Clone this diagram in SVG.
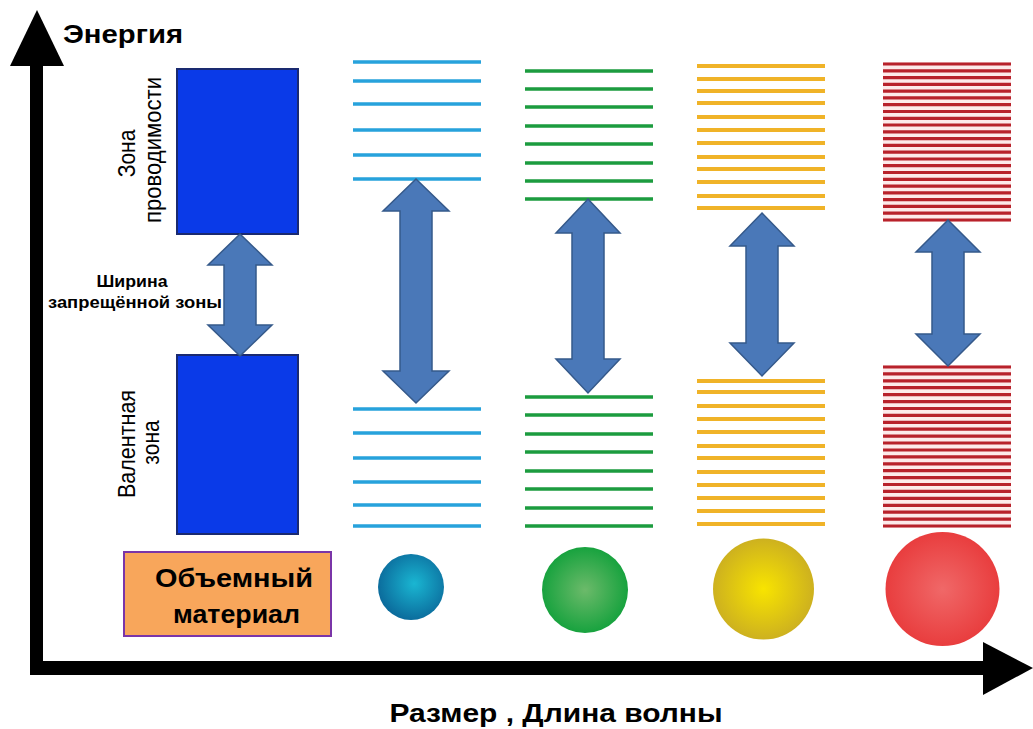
<svg xmlns="http://www.w3.org/2000/svg" width="1033" height="729" viewBox="0 0 1033 729">
<defs>
<style>
.lbl{font-family:"Liberation Sans",Arial,sans-serif;fill:#000}
.b{font-weight:bold}
.band{fill:#0a3ae8;stroke:#1a2a70;stroke-width:2}
.arr{fill:#4a78b8;stroke:#35598a;stroke-width:1.5;stroke-linejoin:miter}
.cy{stroke:#27a2dc;stroke-width:3.5;fill:none}
.gr{stroke:#1c9c3f;stroke-width:3.5;fill:none}
.ye{stroke:#f0b328;stroke-width:4;fill:none}
.rd{stroke:#b8222b;stroke-width:3.2;fill:none}
</style>
<radialGradient id="gTeal" cx="0.55" cy="0.45" r="0.6">
<stop offset="0" stop-color="#1ab6d2"/><stop offset="1" stop-color="#0a6698"/>
</radialGradient>
<radialGradient id="gGreen" cx="0.5" cy="0.5" r="0.55">
<stop offset="0" stop-color="#6cba6a"/><stop offset="1" stop-color="#0fa03a"/>
</radialGradient>
<radialGradient id="gYellow" cx="0.5" cy="0.5" r="0.55">
<stop offset="0" stop-color="#f8e400"/><stop offset="1" stop-color="#c9ac22"/>
</radialGradient>
<radialGradient id="gRed" cx="0.5" cy="0.5" r="0.55">
<stop offset="0" stop-color="#f06868"/><stop offset="1" stop-color="#e8393a"/>
</radialGradient>
</defs>
<rect width="1033" height="729" fill="#fff"/>

<g id="axes">
<rect x="30" y="60" width="13" height="615" fill="#000"/>
<polygon points="10,66 37,10 64,66" fill="#000"/>
<rect x="30" y="661" width="960" height="14" fill="#000"/>
<polygon points="983,642 1033,668 983,695" fill="#000"/>
<text class="lbl b" x="63" y="43" font-size="26" textLength="120" lengthAdjust="spacingAndGlyphs">Энергия</text>
<text class="lbl b" x="556" y="722" font-size="26" text-anchor="middle" textLength="333" lengthAdjust="spacingAndGlyphs">Размер , Длина волны</text>
</g>

<g id="bulk">
<rect class="band" x="177" y="69" width="121" height="165"/>
<rect class="band" x="177" y="355" width="121" height="179"/>
<text class="lbl" font-size="21" text-anchor="middle" transform="translate(135,153.5) scale(1.12,1) rotate(-90)">Зона</text>
<text class="lbl" font-size="21" text-anchor="middle" transform="translate(161,150) scale(1.12,1) rotate(-90)" textLength="146" lengthAdjust="spacingAndGlyphs">проводимости</text>
<text class="lbl" font-size="21" text-anchor="middle" transform="translate(135,444) scale(1.12,1) rotate(-90)" textLength="108" lengthAdjust="spacingAndGlyphs">Валентная</text>
<text class="lbl" font-size="21" text-anchor="middle" transform="translate(159,442.5) scale(1.12,1) rotate(-90)">зона</text>
<text class="lbl b" x="132" y="287" font-size="17" text-anchor="middle" textLength="71" lengthAdjust="spacingAndGlyphs">Ширина</text>
<text class="lbl b" x="135" y="308" font-size="17" text-anchor="middle" textLength="174" lengthAdjust="spacingAndGlyphs">запрещённой зоны</text>
</g>

<g id="bulk-label">
<rect x="124" y="552" width="207" height="84" fill="#f8a65b" stroke="#7a35a8" stroke-width="2"/>
<text class="lbl b" x="234" y="587" font-size="25" text-anchor="middle" textLength="158" lengthAdjust="spacingAndGlyphs">Объемный</text>
<text class="lbl b" x="236.5" y="623" font-size="25" text-anchor="middle" textLength="127" lengthAdjust="spacingAndGlyphs">материал</text>
</g>

<g id="dot-cyan">
<path class="cy" d="M353,62H481M353,81H481M353,104H481M353,130H481M353,155H481M353,179H481"/>
<path class="cy" d="M353,409H481M353,433H481M353,458H481M353,482H481M353,505H481M353,526H481"/>
<circle cx="411" cy="587" r="33" fill="url(#gTeal)"/>
</g>

<g id="dot-green">
<path class="gr" d="M525,71H653M525,89H653M525,107H653M525,126H653M525,144H653M525,163H653M525,181H653M525,199H653"/>
<path class="gr" d="M525,397H653M525,415H653M525,434H653M525,452H653M525,471H653M525,489H653M525,508H653M525,526H653"/>
<circle cx="585" cy="590" r="43" fill="url(#gGreen)"/>
</g>

<g id="dot-yellow">
<path class="ye" d="M697,66H825M697,79H825M697,91H825M697,103H825M697,117H825M697,130H825M697,143H825M697,157H825M697,169H825M697,182H825M697,196H825M697,208H825"/>
<path class="ye" d="M697,381H825M697,392H825M697,406H825M697,419H825M697,432H825M697,446H825M697,458H825M697,472H825M697,485H825M697,498H825M697,511H825M697,524H825"/>
<circle cx="763.5" cy="589" r="50.5" fill="url(#gYellow)"/>
</g>

<g id="dot-red">
<rect x="883" y="62" width="128" height="160" fill="#fdeaea"/>
<rect x="883" y="365" width="128" height="163" fill="#fdeaea"/>
<path class="rd" d="M883,64H1011M883,70.8H1011M883,77.6H1011M883,84.4H1011M883,91.1H1011M883,97.9H1011M883,104.7H1011M883,111.5H1011M883,118.3H1011M883,125H1011M883,131.8H1011M883,138.6H1011M883,145.4H1011M883,152.2H1011M883,159H1011M883,165.7H1011M883,172.5H1011M883,179.3H1011M883,186.1H1011M883,192.9H1011M883,199.7H1011M883,206.4H1011M883,213.2H1011M883,220H1011"/>
<path class="rd" d="M883,367H1011M883,373.9H1011M883,380.8H1011M883,387.7H1011M883,394.7H1011M883,401.6H1011M883,408.5H1011M883,415.4H1011M883,422.3H1011M883,429.2H1011M883,436.1H1011M883,443H1011M883,450H1011M883,456.9H1011M883,463.8H1011M883,470.7H1011M883,477.6H1011M883,484.5H1011M883,491.4H1011M883,498.3H1011M883,505.3H1011M883,512.2H1011M883,519.1H1011M883,526H1011"/>
<circle cx="942.5" cy="589" r="57" fill="url(#gRed)"/>
</g>

<g id="connectors">
<path class="arr" d="M240,234L272,265L256,265L256,325L272,325L240,356L208,325L224,325L224,265L208,265Z"/>
<path class="arr" d="M416,179L449,211L432,211L432,371L449,371L416,403L383,371L400,371L400,211L383,211Z"/>
<path class="arr" d="M588,199L620,233L604,233L604,359L620,359L588,393L556,359L572,359L572,233L556,233Z"/>
<path class="arr" d="M762,213L794,246L778,246L778,343L794,343L762,376L730,343L746,343L746,246L730,246Z"/>
<path class="arr" d="M948,220L980,252L964,252L964,334L980,334L948,366L916,334L932,334L932,252L916,252Z"/>
</g>
</svg>
